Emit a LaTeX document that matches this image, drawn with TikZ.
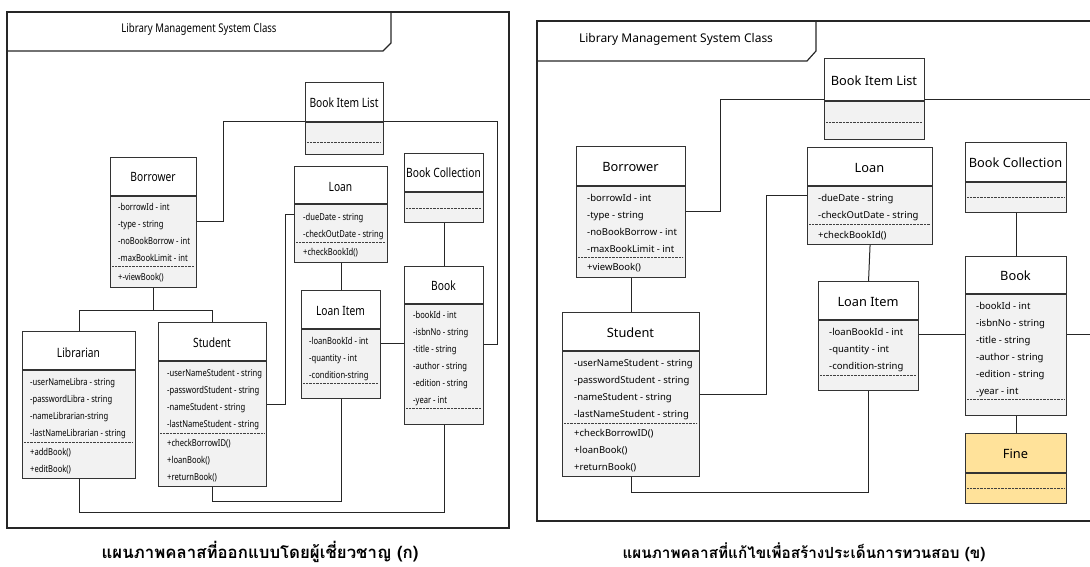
\documentclass[tikz,border=0pt]{standalone}
\usepackage{fontspec}
\newfontfamily\uifont{Noto Sans}
\newfontfamily\uinarrow[FakeStretch=0.8]{Noto Sans}
\newfontfamily\thaifont[Script=Thai]{Loma}

% class box: name, left, top, right, header bottom, dotted line, bottom, body fill, header fill
\newcommand\classbox[9]{%
  \fill[#9] (#2,#3) rectangle (#4,#5);
  \fill[#8] (#2,#5) rectangle (#4,#7);
  \draw[sepline] (#2,#5) -- (#4,#5);
  \draw[dotline] (#2+2,#6) -- (#4-2,#6);
  \node[boxframe, minimum width={(#4-#2)*1pt}, minimum height={(#7-#3)*1pt},
        anchor=north west] (#1) at (#2,#3) {};
}
% one text line per list item: name, style, x, first line centre y, items
\newcommand\classlines[5]{%
  \foreach \t [count=\i] in {#5}
    \node[#2, anchor=base west] (#1-\i) at (#3, #4+3.3+17*\i-17) {\t};
}

\begin{document}
\begin{tikzpicture}[x=1pt,y=-1pt,
  boxframe/.style={draw=black!80, line width=1.1pt, inner sep=0pt},
  sepline/.style={draw=black!80, line width=1.1pt},
  dotline/.style={draw=black!75, line width=0.6pt, dash pattern=on 0.7pt off 0.7pt},
  link/.style={draw=black!85, line width=1pt},
  frameline/.style={draw=black!85, line width=1.2pt},
  hdrL/.style={font=\uinarrow\fontsize{12.8}{15}\selectfont, inner sep=0pt, anchor=base},
  attL/.style={font=\uinarrow\fontsize{9.5}{11}\selectfont, inner sep=0pt},
  hdrR/.style={font=\uifont\fontsize{12.8}{15}\selectfont, inner sep=0pt, anchor=base},
  attR/.style={font=\uifont\fontsize{9.5}{11}\selectfont, inner sep=0pt},
  titleL/.style={font=\uinarrow\fontsize{12}{14}\selectfont, inner sep=0pt},
  titleR/.style={font=\uifont\fontsize{12}{14}\selectfont, inner sep=0pt},
  caption/.style={font=\thaifont\bfseries, inner sep=0pt},
  body/.style={fill=black!5},
  head/.style={fill=white},
  finefill/.style={fill=fineyellow}
]
\definecolor{fineyellow}{HTML}{FFE29A}
\useasboundingbox (0,0) rectangle (1090,566);

% ---------------- left frame ----------------
\draw[frameline] (7,12) rectangle (509,528);
\draw[frameline] (7,12) -- (391,12) -- (391,43) -- (383,51) -- (7,51);
\node[titleL] (titleL) at (199,29) {Library Management System Class};

\classbox{bilL}{305}{82}{383}{122}{142}{154}{body}{head}
\node[hdrL] (bilL-t) at (344,107) {Book Item List};

\classbox{borL}{110}{157}{196}{196}{266}{287}{body}{head}
\node[hdrL] (borL-t) at (153,181) {Borrower};
\classlines{borL-a}{attL}{118}{207}{{-borrowId - int},{-type - string},{-noBookBorrow - int},{-maxBookLimit - int}}
\classlines{borL-m}{attL}{118}{277}{{+-viewBook()}}

\classbox{libL}{22}{331}{135}{370}{442}{478}{body}{head}
\node[hdrL] (libL-t) at (78.5,357) {Librarian};
\classlines{libL-a}{attL}{30}{382}{{-userNameLibra - string},{-passwordLibra - string},{-nameLibrarian-string},{-lastNameLibrarian - string}}
\classlines{libL-m}{attL}{30}{452}{{+addBook()},{+editBook()}}

\classbox{stuL}{158}{322}{266}{361}{433}{486}{body}{head}
\node[hdrL] (stuL-t) at (212,347) {Student};
\classlines{stuL-a}{attL}{167}{373}{{-userNameStudent - string},{-passwordStudent - string},{-nameStudent - string},{-lastNameStudent - string}}
\classlines{stuL-m}{attL}{167}{443}{{+checkBorrowID()},{+loanBook()},{+returnBook()}}

\classbox{loanL}{294}{166}{387}{204}{242}{262}{body}{head}
\node[hdrL] (loanL-t) at (340.5,191) {Loan};
\classlines{loanL-a}{attL}{303}{217}{{-dueDate - string},{-checkOutDate - string}}
\classlines{loanL-m}{attL}{303}{252}{{+checkBookId()}}

\classbox{liL}{301}{290}{380}{329}{383}{398}{body}{head}
\node[hdrL] (liL-t) at (340.5,315) {Loan Item};
\classlines{liL-a}{attL}{309}{341}{{-loanBookId - int},{-quantity - int},{-condition-string}}

\classbox{bcL}{404}{153}{483}{192}{208}{222}{body}{head}
\node[hdrL] (bcL-t) at (443.5,177) {Book Collection};

\classbox{bookL}{404}{266}{483}{304}{408}{424}{body}{head}
\node[hdrL] (bookL-t) at (443.5,290) {Book};
\classlines{bookL-a}{attL}{413}{315}{{-bookId - int},{-isbnNo - string},{-title - string},{-author - string},{-edition - string},{-year - int}}

% left connectors
\draw[link] ([yshift=-64pt]borL.north east) -- ++(26,0) |- ([yshift=-39pt]bilL.north west);
\draw[link] ([yshift=-39pt]bilL.north east) -- ++(113,0) |- ([yshift=-78pt]bookL.north east);
\draw[link] (borL.south) -- ++(0,22) coordinate (jL);
\draw[link] (libL.north) |- (jL) -| (stuL.north);
\draw[link] ([yshift=-82pt]stuL.north east) -- ++(18,0) |- ([yshift=-48pt]loanL.north west);
\draw[link] (loanL.south) -- (liL.north);
\draw[link] ([yshift=-53pt]liL.north east) coordinate (liLr) -- (liLr -| bookL.west);
\draw[link] (bcL.south) -- (bookL.north);
\draw[link] (stuL.south) -- ++(0,14) -| (liL.south);
\draw[link] (libL.south) -- ++(0,33) -| (bookL.south);

\node[caption, font=\thaifont\bfseries\fontsize{16.8}{19}\selectfont] (capL) at (260,552) {แผนภาพคลาสที่ออกแบบโดยผู้เชี่ยวชาญ (ก)};

% ---------------- right frame ----------------
\draw[frameline] (1091,21) -- (537,21) -- (537,521) -- (1091,521);
\draw[frameline] (537,21) -- (816,21) -- (816,51) -- (807,61) -- (537,61);
\node[titleR] (titleR) at (676,39) {Library Management System Class};

\classbox{bilR}{824}{58}{924}{101}{122}{139}{body}{head}
\node[hdrR] (bilR-t) at (874,85) {Book Item List};

\classbox{borR}{576}{146}{685}{186}{257}{277}{body}{head}
\node[hdrR] (borR-t) at (630.5,171) {Borrower};
\classlines{borR-a}{attR}{587}{198}{{-borrowId - int},{-type - string},{-noBookBorrow - int},{-maxBookLimit - int}}
\classlines{borR-m}{attR}{587}{267}{{+viewBook()}}

\classbox{stuR}{562}{312}{699}{351}{423}{476}{body}{head}
\node[hdrR] (stuR-t) at (630.5,337) {Student};
\classlines{stuR-a}{attR}{574}{363}{{-userNameStudent - string},{-passwordStudent - string},{-nameStudent - string},{-lastNameStudent - string}}
\classlines{stuR-m}{attR}{574}{433}{{+checkBorrowID()},{+loanBook()},{+returnBook()}}

\classbox{loanR}{807}{147}{932}{186}{224}{244}{body}{head}
\node[hdrR] (loanR-t) at (869.5,172) {Loan};
\classlines{loanR-a}{attR}{818}{198}{{-dueDate - string},{-checkOutDate - string}}
\classlines{loanR-m}{attR}{818}{235}{{+checkBookId()}}

\classbox{liR}{818}{281}{918}{320}{375}{390}{body}{head}
\node[hdrR] (liR-t) at (868,306) {Loan Item};
\classlines{liR-a}{attR}{829}{332}{{-loanBookId - int},{-quantity - int},{-condition-string}}

\classbox{bcR}{965}{142}{1066}{182}{197}{212}{body}{head}
\node[hdrR] (bcR-t) at (1015.5,167) {Book Collection};

\classbox{bookR}{965}{256}{1066}{294}{399}{415}{body}{head}
\node[hdrR] (bookR-t) at (1015.5,280) {Book};
\classlines{bookR-a}{attR}{976}{306}{{-bookId - int},{-isbnNo - string},{-title - string},{-author - string},{-edition - string},{-year - int}}

\classbox{fineR}{965}{433}{1066}{473}{488}{503}{finefill}{finefill}
\node[hdrR] (fineR-t) at (1015.5,458) {Fine};

% right connectors
\draw[link] ([yshift=-65pt]borR.north east) -- ++(34,0) |- ([yshift=-41pt]bilR.north west);
\draw[link] ([yshift=-41pt]bilR.north east) -- ++(165,0) |- ([yshift=-78pt]bookR.north east);
\draw[link] (borR.south) -- (stuR.north);
\draw[link] ([yshift=-82pt]stuR.north east) -- ++(66,0) |- ([yshift=-48pt]loanR.north west);
\draw[link] (loanR.south) -- (liR.north);
\draw[link] ([yshift=-53pt]liR.north east) coordinate (liRr) -- (liRr -| bookR.west);
\draw[link] (bcR.south) -- (bookR.north);
\draw[link] (bookR.south) -- (fineR.north);
\draw[link] (stuR.south) -- ++(0,15) -| (liR.south);

\node[caption, font=\thaifont\bfseries\fontsize{15.3}{18}\selectfont] (capR) at (804,552) {แผนภาพคลาสที่แก้ไขเพื่อสร้างประเด็นการทวนสอบ (ข)};
\end{tikzpicture}
\end{document}
